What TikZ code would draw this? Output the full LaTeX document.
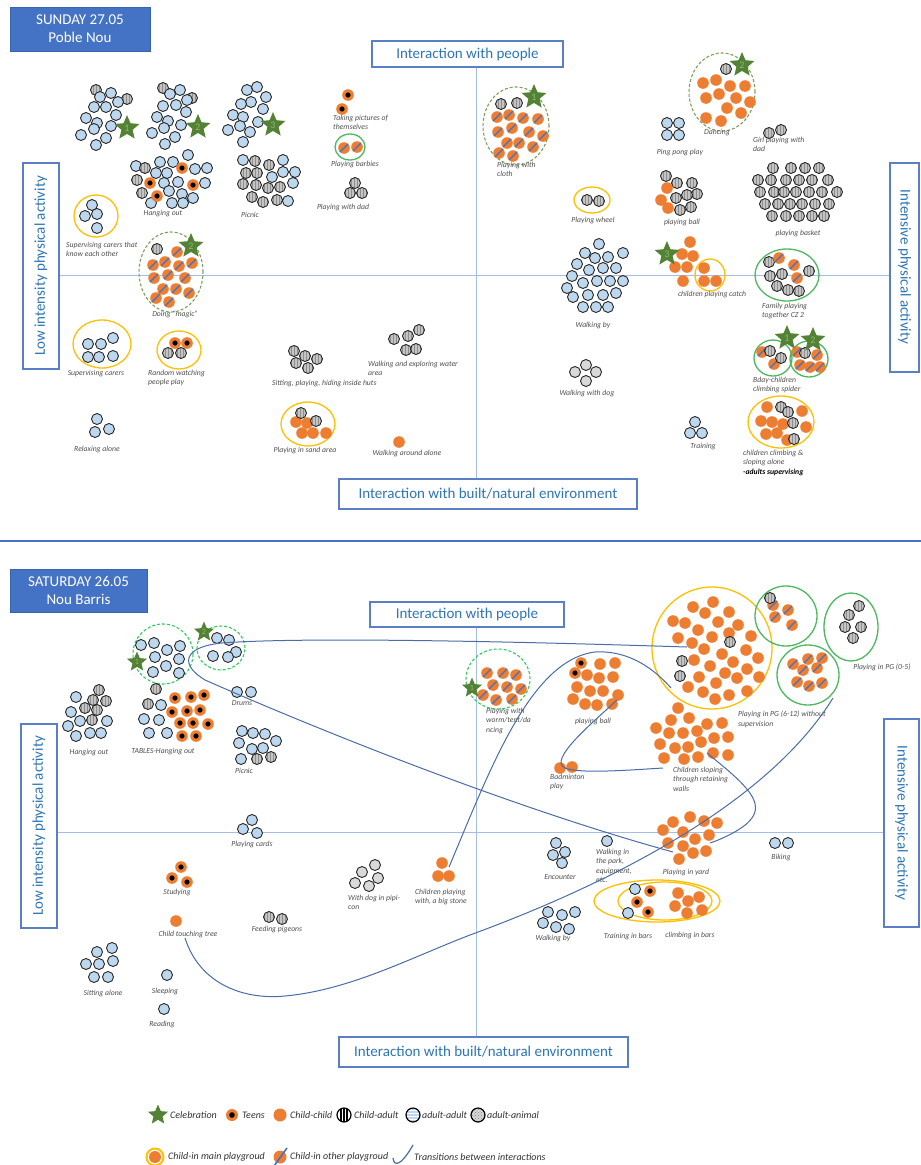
\documentclass[tikz,border=0pt]{standalone}
\usepackage{fontspec}
\setmainfont{Carlito}
\usetikzlibrary{shapes.geometric,patterns}
\definecolor{cBlue}{HTML}{BDD7EE}
\definecolor{cGrey}{HTML}{C4C4C4}
\definecolor{cGreyD}{HTML}{8E8E8E}
\definecolor{cLGrey}{HTML}{D9D9D9}
\definecolor{cOut}{HTML}{262626}
\definecolor{cOrange}{HTML}{ED7D31}
\definecolor{cSlash}{HTML}{4472C4}
\definecolor{cStar}{HTML}{548235}
\definecolor{cStarT}{HTML}{8DB872}
\definecolor{cRingG}{HTML}{4CB860}
\definecolor{cDashT}{HTML}{7BA05B}
\definecolor{cDashB}{HTML}{2ECC5E}
\definecolor{cRingY}{HTML}{FFC000}
\definecolor{cAxis}{HTML}{A4BCE6}
\definecolor{cBox}{HTML}{5B7FC4}
\definecolor{cAxT}{HTML}{2E75B6}
\definecolor{cTitle}{HTML}{4472C4}
\definecolor{cTitleB}{HTML}{3A62AE}
\definecolor{cTrans}{HTML}{4B6CA8}
\definecolor{cLab}{HTML}{505050}
\definecolor{cLeg}{HTML}{333333}
\tikzset{
 dotout/.style={draw=cOut, line width=0.9pt},
 axline/.style={draw=cAxis, line width=1pt},
 axbox/.style={draw=cBox, line width=1.2pt, fill=white},
 axtxt/.style={text=cAxT, font=\fontsize{15}{18}\selectfont, inner sep=0pt},
 titlebox/.style={fill=cTitle, draw=cTitleB, line width=0.8pt},
 titletxt/.style={text=white, font=\fontsize{15}{18}\selectfont, align=center, inner sep=0pt},
 lbl/.style={text=cLab, font=\fontsize{7.7}{9.3}\selectfont\itshape, inner sep=0pt, align=left},
 yring/.style={draw=cRingY, line width=1.3pt},
 gring/.style={draw=cRingG, line width=1.3pt},
 dashT/.style={draw=cDashT, line width=1.1pt, dash pattern=on 3pt off 2pt},
 dashB/.style={draw=cDashB, line width=1.1pt, dash pattern=on 3pt off 2pt},
 celeb/.style={star, star points=5, star point ratio=2.2, fill=cStar, minimum size=26pt, inner sep=0pt, text=cStarT, font=\fontsize{10}{10}\selectfont},
 celebs/.style={celeb, minimum size=21pt, font=\fontsize{8}{8}\selectfont},
 trans/.style={draw=cTrans, line width=1pt},
 leg/.style={text=cLeg, font=\fontsize{10}{12}\selectfont\itshape, inner sep=0pt, anchor=west},
}
\newcommand\bluedots[1]{\foreach \p in {#1}{\filldraw[fill=cBlue, dotout] \p circle[radius=5.5pt];}}
\newcommand\greydots[1]{\foreach \p in {#1}{\fill[cGrey] \p circle[radius=5.5pt]; \fill[pattern=vertical lines, pattern color=cGreyD] \p circle[radius=5.5pt]; \draw[dotout] \p circle[radius=5.5pt];}}
\newcommand\lgreydots[1]{\foreach \p in {#1}{\filldraw[fill=cLGrey, dotout] \p circle[radius=5.5pt];}}
\newcommand\ordots[1]{\foreach \p in {#1}{\fill[cOrange] \p circle[radius=5.8pt];}}
\newcommand\teendots[1]{\foreach \p in {#1}{\fill[cOrange] \p circle[radius=5.8pt]; \fill[black] \p circle[radius=2.6pt];}}
\newcommand\slashdots[1]{\foreach \p in {#1}{\fill[cOrange] \p circle[radius=5.8pt]; \draw[cSlash, line width=1.3pt] \p ++(-3.8,3.8) -- ++(7.6,-7.6);}}
\newcommand\lab[4]{\node[lbl, anchor=#1] (#2) at #3 {#4};}
\begin{document}
\begin{tikzpicture}[x=1pt,y=-1pt]
\useasboundingbox (0,0) rectangle (921,1165);
\fill[white] (0,0) rectangle (921,1165);

%================ TOP PANEL =================
\draw[axline] (476,67) -- (476,479);
\draw[axline] (59,275) -- (890,275);
\draw[titlebox] (10,7) rectangle (150,51);
\node[titletxt] (t1) at (80,29) {SUNDAY 27.05\\Poble Nou};
\draw[axbox] (372,41) rectangle (563,67);
\node[axtxt] (ip1) at (467.5,54) {Interaction with people};
\draw[axbox] (23,163) rectangle (59,369);
\node[axtxt, rotate=90] (lo1) at (41,266) {Low intensity physical activity};
\draw[axbox] (890,163) rectangle (919,372);
\node[axtxt, rotate=-90] (hi1) at (904.5,267) {Intensive physical activity};
\draw[axbox] (339,479) rectangle (637,509);
\node[axtxt] (be1) at (488,494) {Interaction with built/natural environment};

% rings
\draw[gring] (350,147) ellipse [x radius=15pt, y radius=13pt];
\draw[yring] (96,216) ellipse [x radius=22pt, y radius=21pt];
\draw[dashT] (171,272) ellipse [x radius=32pt, y radius=40pt];
\draw[yring] (102,344) ellipse [x radius=29pt, y radius=24pt];
\draw[yring] (179,350) ellipse [x radius=22pt, y radius=19pt];
\draw[yring] (308,424) ellipse [x radius=27pt, y radius=22pt];
\draw[dashT] (516,126) ellipse [x radius=33pt, y radius=39pt];
\draw[dashT] (722,92) ellipse [x radius=33pt, y radius=39pt];
\draw[yring] (592,200) ellipse [x radius=18pt, y radius=13pt];
\draw[yring] (710,275) ellipse [x radius=15pt, y radius=16pt];
\draw[gring] (787,275) ellipse [x radius=32pt, y radius=26pt];
\draw[gring] (773,358) ellipse [x radius=19pt, y radius=18pt];
\draw[gring] (809,359) ellipse [x radius=19pt, y radius=18pt];
\draw[yring] (781,422) ellipse [x radius=33pt, y radius=26pt];

% dots
\greydots{(96,90),(127,99)}
\bluedots{(111,93),(100,97),(118,102),(94,107),(106,107),(116,115),(86,118),(97,123),(111,126),(81,135),(94,129),(106,138),(96,145)}
\greydots{(163,88),(192,98)}
\bluedots{(180,90),(170,94),(187,100),(163,106),(176,105),(186,112),(157,117),(168,121),(181,125),(152,133),(164,128),(175,137),(165,144)}
\bluedots{(247,90),(257,87),(266,97),(251,102),(241,104),(263,109),(233,115),(243,117),(258,122),(228,130),(240,126),(250,132),(243,142)}
\teendots{(348,95),(342,109)}
\slashdots{(344,148),(357,147)}
\greydots{(355,183),(350,193),(362,193)}
\bluedots{(136,166),(160,162),(173,162),(188,155),(195,169),(207,168),(156,173),(167,173),(164,183),(178,182),(205,183),(169,191),(182,194),(193,198),(151,203),(172,203),(183,203)}
\greydots{(145,168),(137,180),(142,193)}
\teendots{(182,168),(150,183),(193,185),(157,196)}
\greydots{(255,161),(269,165),(246,173),(257,173),(243,184),(256,185),(268,188),(280,187),(252,197),(263,202),(277,200)}
\bluedots{(243,160),(283,160),(272,177),(283,172),(295,172),(293,183),(288,201)}
\bluedots{(92,205),(85,216),(97,214),(97,228)}
\greydots{(157,249)}
\slashdots{(177,252),(165,262),(153,265),(179,266),(192,263),(154,278),(168,275),(185,278),(163,289),(176,289),(189,293),(156,298),(169,302)}
\bluedots{(88,344),(101,344),(113,338),(88,357),(99,357),(113,356)}
\teendots{(175,343),(187,343)}
\greydots{(168,353),(181,353)}
\greydots{(294,351),(305,356),(317,359),(296,363),(308,368)}
\greydots{(419,330),(408,336),(394,339),(406,350),(416,349)}
\bluedots{(97,419),(95,432),(109,429)}
\ordots{(296,422),(307,423),(302,433),(313,433),(326,433)}
\greydots{(301,413),(316,421)}
\ordots{(399,442)}
\greydots{(501,104),(517,103)}
\slashdots{(497,117),(509,115),(523,118),(538,119),(498,132),(512,128),(529,132),(543,136),(507,143),(519,143),(533,147),(499,153),(513,156)}
\greydots{(726,69)}
\ordots{(703,83),(716,80),(730,86),(745,86),(706,98),(719,94),(736,98),(750,102),(727,108),(741,113),(706,118),(721,121)}
\bluedots{(667,123),(679,123),(667,135),(679,135)}
\greydots{(769,133),(781,130)}
\greydots{(587,200),(599,201)}
\greydots{(666,176),(677,183),(692,183),(697,194),(687,195),(676,198),(680,210),(691,207)}
\ordots{(667,188),(661,200),(668,208)}
\greydots{(773,168),(791,168),(805,168),(819,168),(758,180),(771,180),(786,180),(799,180),(812,180),(828,180),(760,192),(774,192),(784,192),(796,192),(809,192),(822,192),(837,192),(765,204),(778,204),(790,204),(802,204),(815,204),(829,204),(772,216),(786,216),(799,216),(812,216),(824,216)}
\bluedots{(599,244),(585,253),(595,258),(608,257),(623,253),(577,264),(589,270),(603,268),(616,268),(572,276),(567,288),(583,283),(597,281),(610,281),(623,281),(573,297),(588,295),(603,295),(616,293),(583,307),(596,307),(608,307)}
\ordots{(690,242),(682,254),(693,256),(675,267),(687,267),(683,281),(704,268),(704,281),(716,281)}
\greydots{(769,262),(809,271),(770,276),(782,274),(777,286),(788,290),(799,291)}
\slashdots{(779,258),(794,265),(797,278)}
\slashdots{(762,352),(774,364)}
\greydots{(770,351),(781,358)}
\slashdots{(797,352),(817,355),(800,365),(810,367),(820,367)}
\greydots{(805,353)}
\ordots{(767,407),(802,411),(761,421),(772,422),(783,424),(806,427),(766,434),(777,433),(787,440)}
\greydots{(781,407),(788,412),(793,423),(794,439)}
\lgreydots{(586,365),(575,372),(596,372),(586,381)}
\bluedots{(695,422),(690,433),(702,433)}

% stars
\node[celeb] (s11) at (127,128) {1};
\node[celeb] (s12) at (198,127) {2};
\node[celeb] (s13) at (273,125) {3};
\node[celeb] (s14) at (191,246) {2};
\node[celeb] (s15) at (534,97) {1};
\node[celeb] (s16) at (742,65) {2};
\node[celeb] (s17) at (667,254) {3};
\node[celeb] (s18) at (787,338) {1};
\node[celeb] (s19) at (813,340) {2};

% labels
\lab{north west}{a1}{(333,115)}{Taking pictures of\\themselves}
\lab{center}{a2}{(355,164)}{Playing barbies}
\lab{center}{a3}{(343,207)}{Playing with dad}
\lab{center}{a4}{(163,214)}{Hanging out}
\lab{center}{a5}{(250,215)}{Picnic}
\lab{north west}{a6}{(66,242)}{Supervising carers that\\know each other}
\lab{center}{a7}{(175,314)}{Doing “magic”}
\lab{center}{a8}{(96,374)}{Supervising carers}
\lab{north west}{a9}{(148,370)}{Random watching\\people play}
\lab{west}{a10}{(272,383)}{Sitting, playing, hiding inside huts}
\lab{north west}{a11}{(368,361)}{Walking and exploring water\\area}
\lab{center}{a12}{(97,449)}{Relaxing alone}
\lab{center}{a13}{(305,450)}{Playing in sand area}
\lab{center}{a14}{(407,453)}{Walking around alone}
\lab{north west}{a15}{(497,162)}{Playing with\\cloth}
\lab{center}{a16}{(717,133)}{Dancing}
\lab{center}{a17}{(680,152)}{Ping pong play}
\lab{north west}{a18}{(753,137)}{Girl playing with\\dad}
\lab{center}{a19}{(593,220)}{Playing wheel}
\lab{center}{a20}{(682,222)}{playing ball}
\lab{center}{a21}{(798,233)}{playing basket}
\lab{center}{a22}{(593,325)}{Walking by}
\lab{center}{a23}{(712,294)}{children playing catch}
\lab{north west}{a24}{(762,303)}{Family playing\\together CZ 2}
\lab{north west}{a25}{(753,377)}{Bday-children\\climbing spider}
\lab{center}{a26}{(587,393)}{Walking with dog}
\lab{center}{a27}{(703,447)}{Training}
\lab{north west}{a28}{(743,450)}{children climbing \&\\sloping alone\\{\color{black}\bfseries -adults supervising}}

% separator
\draw[cTitle, line width=2.5pt] (0,541) -- (921,541);

%================ BOTTOM PANEL =================
\draw[axline] (476,627) -- (476,1037);
\draw[axline] (57,832) -- (884,832);
\draw[titlebox] (10,569) rectangle (147,612);
\node[titletxt] (t2) at (78.5,590.5) {SATURDAY 26.05\\Nou Barris};
\draw[axbox] (370,602) rectangle (564,627);
\node[axtxt] (ip2) at (467,614.5) {Interaction with people};
\draw[axbox] (21,724) rectangle (57,928);
\node[axtxt, rotate=90] (lo2) at (39,826) {Low intensity physical activity};
\draw[axbox] (884,719) rectangle (919,927);
\node[axtxt, rotate=-90] (hi2) at (901.5,823) {Intensive physical activity};
\draw[axbox] (339,1037) rectangle (628,1067);
\node[axtxt] (be2) at (483.5,1052) {Interaction with built/natural environment};

% rings
\draw[dashB] (163,654) circle[radius=30pt];
\draw[dashB] (221,648) ellipse [x radius=24pt, y radius=22pt];
\draw[dashB] (498,679) ellipse [x radius=32pt, y radius=30pt];
\draw[yring] (712,648) ellipse [x radius=60pt, y radius=61pt];
\draw[gring] (786,616) ellipse [x radius=31pt, y radius=30pt];
\draw[gring] (851,627) ellipse [x radius=27pt, y radius=34pt];
\draw[gring] (808,675) ellipse [x radius=31pt, y radius=30pt];
\draw[yring] (657,901) ellipse [x radius=63pt, y radius=21pt];
\draw[yring] (665,901) ellipse [x radius=47pt, y radius=19pt];

% dots
\bluedots{(141,645),(154,643),(167,650),(180,646),(155,657),(179,659),(166,666),(153,672),(179,673)}
\bluedots{(217,638),(229,640),(236,652),(213,656),(228,657)}
\greydots{(99,690),(93,700),(106,701),(85,708),(97,710),(92,720)}
\bluedots{(76,697),(71,712),(80,721),(107,721),(68,726),(76,736),(90,733),(101,733)}
\greydots{(156,689),(148,704)}
\bluedots{(161,705),(144,719),(159,720),(149,733),(167,733)}
\teendots{(175,698),(191,697),(204,695),(172,712),(187,711),(200,710),(180,723),(193,723),(208,724),(182,736),(196,736)}
\bluedots{(237,692),(251,692)}
\bluedots{(242,731),(253,733),(265,734),(276,741),(239,743),(252,749),(263,748),(241,759)}
\greydots{(257,759),(271,757)}
\bluedots{(252,820),(243,829),(257,833)}
\slashdots{(487,673),(503,673),(516,675),(493,685),(507,687),(521,689),(483,695),(496,700),(512,699)}
\teendots{(581,663),(575,673)}
\ordots{(600,664),(615,663),(587,675),(599,678),(613,677),(577,687),(590,691),(603,691),(618,695),(573,699),(585,704),(597,705),(612,704)}
\ordots{(560,768),(572,767)}
\ordots{(713,602),(693,607),(705,613),(729,612),(673,621),(685,623),(718,622),(738,625),(698,630),(729,633),(678,638),(692,643),(712,637),(751,636),(704,649),(722,654),(746,650),(758,658),(694,660),(710,666),(733,662),(747,669),(699,677),(725,673),(716,683),(737,678),(759,677),(688,687),(703,692),(729,695),(747,691),(715,699)}
\greydots{(730,642),(682,661),(680,676)}
\slashdots{(773,605),(788,610),(775,617),(792,625)}
\greydots{(770,598)}
\greydots{(859,606),(849,615),(845,627),(861,627),(853,638)}
\slashdots{(793,664),(808,659),(822,658),(803,670),(817,668),(797,682),(809,686),(822,683)}
\ordots{(678,708),(689,718),(671,720),(707,724),(722,723),(656,728),(669,733),(683,733),(697,731),(714,738),(728,737),(660,744),(675,748),(688,747),(701,742),(664,758),(684,759),(698,757),(713,753),(728,755)}
\ordots{(690,817),(673,822),(704,821),(717,823),(663,830),(683,832),(709,835),(668,843),(683,846),(695,839),(706,851),(693,853),(679,859)}
\bluedots{(775,843),(788,843)}
\bluedots{(556,843),(553,855),(565,852),(562,863)}
\bluedots{(607,841)}
\bluedots{(635,889),(628,913)}
\teendots{(650,891),(637,902),(648,912)}
\ordots{(678,893),(699,897),(688,901),(675,906),(687,913),(702,910)}
\bluedots{(548,912),(562,915),(575,912),(543,923),(556,927),(569,929)}
\teendots{(181,867),(172,878),(187,882)}
\ordots{(176,921)}
\greydots{(269,917),(282,919)}
\lgreydots{(375,865),(362,872),(378,878),(355,883),(369,886)}
\ordots{(442,863),(438,876),(449,876)}
\bluedots{(112,948),(97,952),(113,961),(86,964),(99,964),(94,977),(108,977)}
\bluedots{(167,975)}
\bluedots{(164,1009)}

% stars
\node[celebs] (s21) at (137,662) {1};
\node[celebs] (s22) at (204,632) {2};
\node[celebs] (s23) at (472,688) {1};

% labels
\lab{center}{b1}{(89,753)}{Hanging out}
\lab{center}{b2}{(163,752)}{TABLES-Hanging out}
\lab{center}{b3}{(242,703)}{Drums}
\lab{center}{b4}{(244,771)}{Picnic}
\lab{center}{b5}{(252,844)}{Playing cards}
\lab{north west}{b6}{(486,708)}{Playing with\\worm/tent/da\\ncing}
\lab{center}{b7}{(593,721)}{playing ball}
\lab{north west}{b8}{(550,774)}{Badminton\\play}
\lab{north west}{b9}{(738,711)}{Playing in PG (6-12) without\\supervision}
\lab{center}{b10}{(882,667)}{Playing in PG (0-5)}
\lab{north west}{b11}{(673,767)}{Children sloping\\through retaining\\walls}
\lab{center}{b12}{(686,872)}{Playing in yard}
\lab{center}{b13}{(781,857)}{Biking}
\lab{center}{b14}{(560,877)}{Encounter}
\lab{north west}{b15}{(596,849)}{Walking in\\the park,\\equipment,\\etc.}
\lab{center}{b16}{(628,936)}{Training in bars}
\lab{center}{b17}{(690,935)}{climbing in bars}
\lab{center}{b18}{(553,938)}{Walking by}
\lab{center}{b19}{(177,892)}{Studying}
\lab{center}{b20}{(188,934)}{Child touching tree}
\lab{center}{b21}{(277,929)}{Feeding pigeons}
\lab{north west}{b22}{(348,895)}{With dog in pipi-\\con}
\lab{north west}{b23}{(415,889)}{Children playing\\with, a big stone}
\lab{center}{b24}{(103,993)}{Sitting alone}
\lab{center}{b25}{(165,991)}{Sleeping}
\lab{center}{b26}{(162,1024)}{Reading}

% transitions
\coordinate (c1a) at (687,647);
\coordinate (c1b) at (673,852);
\coordinate (c2a) at (185,938);
\coordinate (c2b) at (833,698);
\coordinate (c3a) at (449,867);
\coordinate (c3b) at (671,688);
\coordinate (c4a) at (617,700);
\coordinate (c4b) at (663,768);
\coordinate (c5a) at (707,753);
\coordinate (c5b) at (710,843);
\draw[trans] (c1a) .. controls (500,641) and (300,637) .. (222,643) .. controls (182,647) and (180,665) .. (205,680) .. controls (330,735) and (520,810) .. (c1b);
\draw[trans] (c2a) .. controls (200,985) and (245,1000) .. (285,996) .. controls (350,990) and (410,958) .. (470,935) .. controls (620,880) and (770,800) .. (c2b);
\draw[trans] (c3a) .. controls (490,770) and (530,660) .. (595,652) .. controls (630,650) and (655,670) .. (c3b);
\draw[trans] (c4a) .. controls (590,725) and (548,760) .. (565,768) .. controls (580,774) and (630,770) .. (c4b);
\draw[trans] (c5a) .. controls (740,780) and (765,800) .. (752,818) .. controls (745,828) and (725,838) .. (c5b);

%================ LEGEND =================
\node[celebs] (ls) at (158,1115) {};
\node[leg] (l1) at (170,1115) {Celebration};
\fill[cOrange] (232,1115) circle[radius=6pt]; \fill[black] (232,1115) circle[radius=2.8pt];
\node[leg] (l2) at (242,1115) {Teens};
\fill[cOrange] (280,1115) circle[radius=6.5pt];
\node[leg] (l3) at (290,1115) {Child-child};
\fill[white] (344,1115) circle[radius=7pt];
\begin{scope}
\clip (344,1115) circle[radius=7pt];
\foreach \dx in {-3,0,3} \draw[black, line width=1.2pt] (344+\dx,1105) -- (344+\dx,1125);
\end{scope}
\draw[black, line width=1.2pt] (344,1115) circle[radius=7pt];
\node[leg] (l4) at (354,1115) {Child-adult};
\fill[cBlue] (413,1115) circle[radius=7pt];
\begin{scope}
\clip (413,1115) circle[radius=7pt];
\foreach \dy in {-4.5,-1.5,1.5,4.5} \draw[white, line width=1.3pt] (403,1115+\dy) -- (423,1115+\dy);
\end{scope}
\draw[black, line width=1.2pt] (413,1115) circle[radius=7pt];
\node[leg] (l5) at (422,1115) {adult-adult};
\fill[cLGrey] (478,1115) circle[radius=7pt];
\fill[pattern=crosshatch dots, pattern color=gray] (478,1115) circle[radius=7pt];
\draw[black, line width=1.2pt] (478,1115) circle[radius=7pt];
\node[leg] (l6) at (487,1115) {adult-animal};
\fill[cOrange] (155,1157) circle[radius=6pt];
\draw[cRingY, line width=2pt] (155,1157) circle[radius=8.5pt];
\node[leg] (l7) at (168,1157) {Child-in main playgroud};
\fill[cOrange] (280,1157) circle[radius=6.5pt];
\draw[cSlash, line width=1.6pt] (274,1166) -- (287,1148);
\node[leg] (l8) at (290,1157) {Child-in other playgroud};
\coordinate (lt1) at (393,1158);
\coordinate (lt2) at (413,1145);
\draw[trans, line width=1.2pt] (lt1) .. controls (394,1167) and (401,1166) .. (lt2);
\node[leg] (l9) at (414,1157) {Transitions between interactions};
\end{tikzpicture}
\end{document}
